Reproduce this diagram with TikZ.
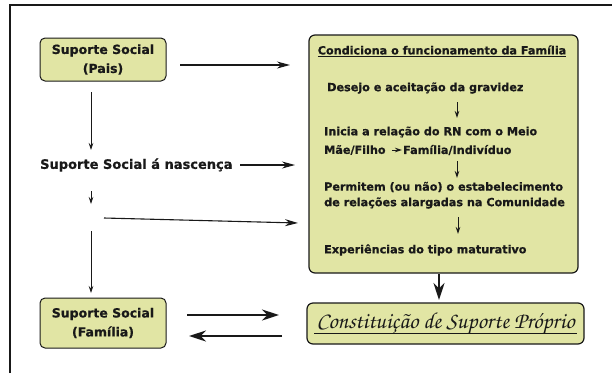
\documentclass[tikz,border=0pt]{standalone}
\usepackage{fontspec}
\setmainfont{DejaVu Sans}[BoldFeatures={FakeBold=0.8}]
\newfontfamily\scr{texgyrechorus-mediumitalic.otf}
\usetikzlibrary{arrows.meta}
\definecolor{boxfill}{RGB}{225,229,164}
\definecolor{ink}{RGB}{25,25,25}
\begin{document}
\begin{tikzpicture}[x=1pt,y=-1pt,
  every node/.style={text=ink},
  outlab/.style={font=\bfseries\fontsize{13}{20}\selectfont, inner sep=0pt},
  inlab/.style={font=\bfseries\fontsize{11.2}{16}\selectfont, inner sep=0pt, anchor=west},
  sbox/.style={draw=ink, line width=1pt, rounded corners=5pt, fill=boxfill, align=center,
    minimum width=126pt, inner sep=0pt, font=\bfseries\fontsize{12.5}{19}\selectfont},
  bigbox/.style={draw=ink, line width=1.2pt, rounded corners=6pt, fill=boxfill, inner sep=0pt},
  thinarr/.style={draw=ink, line width=0.7pt, -{Stealth[length=7pt,width=4.5pt]}},
  medarr/.style={draw=ink, line width=1.1pt, -{Stealth[length=13pt,width=7pt]}},
  bigarr/.style={draw=ink, line width=2.4pt, -{Stealth[length=17pt,width=11pt]}},
]
\useasboundingbox (0,0) rectangle (612,373);
\draw[line width=1.3pt, ink] (10,373) -- (10,5) -- (612,5);

% left column
\node[sbox, minimum height=43pt] (pais) at (103,59.5) {Suporte Social\\(Pais)};
\node[outlab, anchor=west] (nasc) at (40,165) {Suporte Social á nascença};
\node[sbox, minimum height=50pt] (fam) at (103,323) {Suporte Social\\(Família)};

% big box
\node[bigbox, minimum width=269pt, minimum height=238pt] (cond) at (443.5,154) {};
\node[inlab, anchor=center] (t0) at (442,51) {\underline{Condiciona o funcionamento da Família}};
\node[inlab] (t1) at (327,88) {Desejo e aceitação da gravidez};
\node[inlab] (t2) at (324,132) {Inicia a relação do RN com o Meio};
\node[inlab] (t3a) at (324,150) {Mãe/Filho};
\node[inlab] (t3b) at (403,150) {Família/Indivíduo};
\node[inlab] (t4) at (324,187) {Permitem (ou não) o estabelecimento};
\node[inlab] (t5) at (324,203) {de relações alargadas na Comunidade};
\node[inlab] (t6) at (324,250) {Experiências do tipo maturativo};

% result box
\node[bigbox, minimum width=277pt, minimum height=41pt, font=\scr\fontsize{23}{23}\selectfont] (cons) at (445.5,323.5) {Constituição de Suporte Próprio};
\coordinate (u1) at (314,333);
\coordinate (u2) at (577,333);
\draw[ink, line width=1pt] (u1) -- (u2);

% coordinates for free ends
\coordinate (p1) at (180,65);  \coordinate (p2) at (290,65);
\coordinate (n1) at (240,165); \coordinate (n2) at (295,165);
\coordinate (v1) at (91,92);   \coordinate (v2) at (91,150);
\coordinate (k1) at (91,191);  \coordinate (k2) at (91,204);
\coordinate (s1) at (104,218); \coordinate (s2) at (298,223);
\coordinate (w1) at (91,231);  \coordinate (w2) at (91,293);
\coordinate (f1) at (187,315); \coordinate (f2) at (279,315);
\coordinate (g1) at (282,336); \coordinate (g2) at (189,336);
\coordinate (a1) at (457,102); \coordinate (a2) at (457,118);
\coordinate (b1) at (457,161); \coordinate (b2) at (457,178);
\coordinate (c1) at (458,217); \coordinate (c2) at (458,234);
\coordinate (d1) at (439,274); \coordinate (d2) at (439,300);

\draw[medarr] (p1) -- (p2);
\draw[medarr] (n1) -- (n2);
\draw[thinarr] (v1) -- (v2);
\draw[thinarr] (k1) -- (k2);
\draw[medarr] (s1) -- (s2);
\draw[thinarr] (w1) -- (w2);
\draw[bigarr] (f1) -- (f2);
\draw[bigarr] (g1) -- (g2);
\draw[thinarr, line width=1pt] (a1) -- (a2);
\draw[thinarr, line width=1pt] (b1) -- (b2);
\draw[thinarr, line width=1pt] (c1) -- (c2);
\draw[thinarr, line width=1pt] ([xshift=6pt]t3a.east) -- ([xshift=-1pt]t3b.west);
\draw[bigarr] (d1) -- (d2);
\end{tikzpicture}
\end{document}
